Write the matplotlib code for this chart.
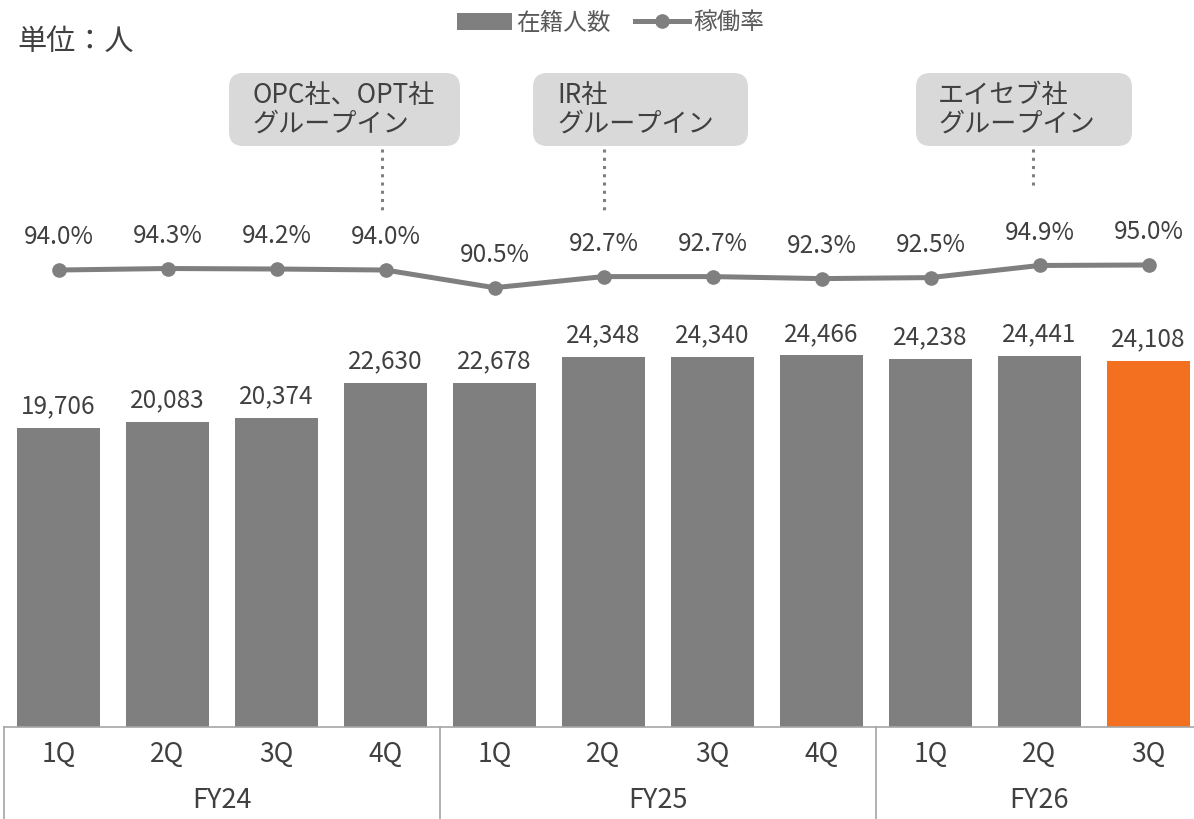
import matplotlib
matplotlib.use("Agg")
import matplotlib.pyplot as plt
from matplotlib.patches import FancyBboxPatch, Patch
from matplotlib.lines import Line2D
from matplotlib.transforms import blended_transform_factory

plt.rcParams['font.family'] = ['Noto Sans CJK JP', 'DejaVu Sans']

# ---- data -------------------------------------------------------------
quarters = ["1Q", "2Q", "3Q", "4Q", "1Q", "2Q", "3Q", "4Q", "1Q", "2Q", "3Q"]
fiscal_years = ["FY24", "FY25", "FY26"]
quarters_per_year = [4, 4, 3]
headcount = [19706, 20083, 20374, 22630, 22678, 24348, 24340, 24466, 24238, 24441, 24108]
utilization = [94.0, 94.3, 94.2, 94.0, 90.5, 92.7, 92.7, 92.3, 92.5, 94.9, 95.0]
event_labels = ["OPC社、OPT社\nグループイン", "IR社\nグループイン", "エイセブ社\nグループイン"]

# ---- styling ----------------------------------------------------------
W, H = 1194, 819
GRAY = "#7f7f7f"
ORANGE = "#f37021"
TEXT = "#404040"
AXIS = "#a6a6a6"
BOX = "#d9d9d9"

fig = plt.figure(figsize=(W / 100, H / 100), dpi=100)


def fx(px):
    return px / W


def fy(py):
    return 1 - py / H


ax = fig.add_axes([fx(4), 92 / H, 1199 / W, 727 / H])
n = len(headcount)
xs = list(range(n))
colors = [GRAY] * (n - 1) + [ORANGE]
bars = ax.bar(xs, headcount, width=0.76, color=colors, zorder=2)
ax.set_xlim(-0.5, n - 0.5)
ax.set_ylim(0, 47860)
ax.set_yticks([])
for side in ("left", "right", "top"):
    ax.spines[side].set_visible(False)
ax.spines["bottom"].set_color(AXIS)
ax.spines["bottom"].set_linewidth(1.2)

for x, v in zip(xs, headcount):
    ax.annotate(f"{v:,}", (x, v), xytext=(0, 10.5), textcoords="offset points",
                ha="center", va="baseline", fontsize=17.5, color=TEXT)

# quarter tick labels
ax.set_xticks(xs)
ax.set_xticklabels(quarters, fontsize=19, color=TEXT)
ax.tick_params(axis="x", length=0, pad=10)

# fiscal-year group labels and separators
blend = blended_transform_factory(ax.transData, fig.transFigure)
start = 0
bounds = [-0.5]
for fyl, cnt in zip(fiscal_years, quarters_per_year):
    center = start + (cnt - 1) / 2
    ax.text(center, fy(801), fyl, transform=blend, ha="center", va="center",
            fontsize=19.5, color=TEXT)
    start += cnt
    bounds.append(start - 0.5)
for b in bounds:
    ax.add_line(Line2D([b, b], [fy(727), 0], transform=blend, color=AXIS,
                       lw=1.2, clip_on=False))

# utilisation line
ax2 = ax.twinx()
ax2.set_ylim(3.51, 147.47)
ax2.set_yticks([])
for side in ("left", "right", "top", "bottom"):
    ax2.spines[side].set_visible(False)
ax2.plot(xs, utilization, color=GRAY, lw=3.6, marker="o", markersize=9.5, zorder=3)
for x, v in zip(xs, utilization):
    ax2.annotate(f"{v:.1f}%", (x, v), xytext=(0, 18.4), textcoords="offset points",
                 ha="center", va="baseline", fontsize=17.5, color=TEXT)

# event call-outs
callouts = [  # (box left, box right, text left, leader x, leader bottom) in px
    (229, 460, 252, 2.97, 213),
    (533, 748, 557, 5.0, 213),
    (916, 1132, 938, 8.94, 188),
]
for label, (x0, x1, tx, lx, lb) in zip(event_labels, callouts):
    box = FancyBboxPatch((fx(x0), fy(146)), fx(x1) - fx(x0), fy(73) - fy(146),
                         boxstyle="round,pad=0,rounding_size=0.012",
                         transform=fig.transFigure, facecolor=BOX,
                         edgecolor="none", mutation_aspect=W / H)
    fig.add_artist(box)
    fig.text(fx(tx), fy(109.5), label, ha="left", va="center", fontsize=18.8,
             color=TEXT, linespacing=1.08)
    ax.add_line(Line2D([lx, lx], [fy(149), fy(lb)], transform=blend, color=GRAY,
                       lw=2.2, linestyle=(0, (1, 1.7)), clip_on=False))

# unit label
fig.text(fx(17), fy(42), "単位：人", ha="left", va="center", fontsize=21, color=TEXT)

# legend
handles = [Patch(facecolor=GRAY, edgecolor="none"),
           Line2D([], [], color=GRAY, lw=3.6, marker="o", markersize=9.5)]
fig.legend(handles, ["在籍人数", "稼働率"], loc="center", ncol=2,
           bbox_to_anchor=(fx(611), fy(23)), frameon=False, fontsize=17,
           labelcolor="#595959", handlelength=2.3, handletextpad=0.2,
           columnspacing=1.0, handleheight=0.7)

fig.savefig("out.png", dpi=100)
